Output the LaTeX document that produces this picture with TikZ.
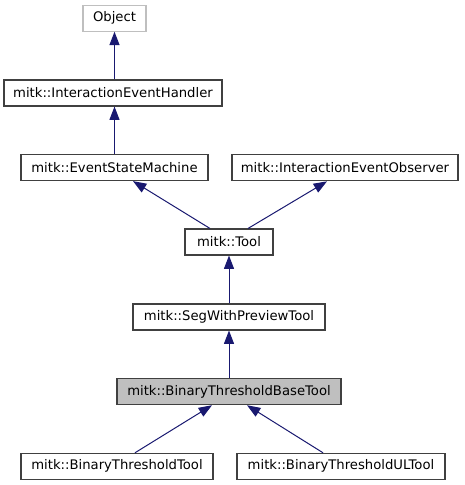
\documentclass[tikz,border=0pt]{standalone}
\usepackage{fontspec}
\setmainfont{DejaVu Sans}
\usetikzlibrary{arrows.meta}
\definecolor{edgeblue}{HTML}{191970}
\definecolor{boxline}{HTML}{404040}
\definecolor{objline}{HTML}{BFBFBF}
\definecolor{curfill}{HTML}{BFBFBF}
\begin{document}
\begin{tikzpicture}[x=0.75pt,y=-0.75pt,
  cls/.style={draw=boxline,line width=0.8pt,fill=white,rectangle,inner sep=0pt,minimum height=19.5pt,font=\fontsize{9.9}{11}\selectfont},
  inh/.style={draw=edgeblue,line width=0.75pt,-{Triangle[length=10pt,width=7.5pt]}}]
\useasboundingbox (0,0) rectangle (464,485);
\node[cls,draw=objline,minimum width=47.25pt] (obj) at (114.5,18.2) {Object};
\node[cls,minimum width=163.5pt] (ieh) at (113,93) {mitk::InteractionEventHandler};
\node[cls,minimum width=140.25pt] (esm) at (114.5,167.6) {mitk::EventStateMachine};
\node[cls,minimum width=169.5pt] (ieo) at (345,167.8) {mitk::InteractionEventObserver};
\node[cls,minimum width=66pt] (tool) at (229,242) {mitk::Tool};
\node[cls,minimum width=144pt] (swpt) at (229,317) {mitk::SegWithPreviewTool};
\node[cls,fill=curfill,minimum width=168pt] (btbt) at (229,391.7) {mitk::BinaryThresholdBaseTool};
\node[cls,minimum width=144pt] (btt) at (117,466.3) {mitk::BinaryThresholdTool};
\node[cls,minimum width=156pt] (btul) at (341,466.3) {mitk::BinaryThresholdULTool};
\draw[inh] (ieh.north -| obj.south) -- (obj.south);
\draw[inh] (esm.north -| obj.south) -- (ieh.south -| obj.south);
\draw[inh] (tool.north -| 210,0) -- (esm.south -| 133,0);
\draw[inh] (tool.north -| 248,0) -- (ieo.south -| 327,0);
\draw[inh] (swpt.north) -- (tool.south);
\draw[inh] (btbt.north) -- (swpt.south);
\draw[inh] (btt.north -| 135,0) -- (btbt.south -| 212,0);
\draw[inh] (btul.north -| 323,0) -- (btbt.south -| 247,0);
\end{tikzpicture}
\end{document}
